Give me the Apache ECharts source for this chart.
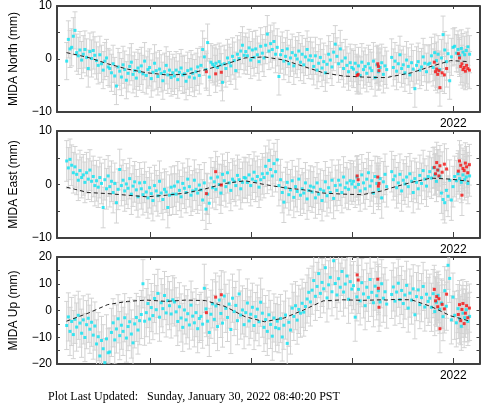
<!DOCTYPE html>
<html><head><meta charset="utf-8">
<script src="https://cdn.jsdelivr.net/npm/echarts@6/dist/echarts.min.js"></script>
<style>html,body{margin:0;padding:0;background:#fff}#c{width:481px;height:404px}</style>
</head><body><div id="c"></div>
<script>
// ---- data ----
const startYear = 2020.085;          // first daily-solution epoch (decimal year)
const stepDays = 3;                  // sampling of the plotted solutions
const xMin = 2020.037, xMax = 2022.130;
const xTickValues = [2020.5, 2021, 2021.5, 2022];
const xLabelValues = [2022];

const northVals = [-0.4,3.7,1.9,2.2,4.3,5.4,
 1.2,0.6,1.7,-0.2,0.9,1.8,0.3,-1.8,1.4,0.1,1.6,0.7,
 -0.3,-1.2,0.8,-0.9,-2.1,-0.4,0.2,-1.5,
 -1.8,-2.6,-0.9,-3.2,-5.1,-1.5,-2.3,-3.4,-1.1,-2.0,-4.0,-2.7,-1.4,-0.6,-2.9,-2.2,-3.6,-1.7,-2.4,
 -1.3,-2.8,-0.4,-3.1,-2.0,-1.6,-3.7,-2.5,-0.8,-2.2,-3.3,-1.9,-2.7,-4.1,-2.4,-1.2,-3.0,-2.1,-3.5,-2.6,
 -3.2,-2.1,-3.9,-2.5,-1.7,-3.0,-2.8,-4.2,-2.2,-3.4,-1.9,-2.7,-3.6,-2.4,-1.5,-3.1,
 -1.2,1.8,0.4,-2.0,3.1,-3.4,-0.6,-1.0,
 -1.4,-0.8,-1.6,-0.5,-1.1,-4.4,-0.9,-1.8,0.2,-0.7,-1.3,0.5,-0.3,-2.2,0.9,0.1,1.5,2.6,0.7,
 1.4,0.6,2.1,-0.2,1.7,0.3,1.9,0.8,-0.5,2.4,1.1,0.2,
 2.6,4.7,1.5,2.9,1.8,3.3,0.9,2.2,
 -3.3,0.8,1.6,-0.4,0.5,1.9,-0.9,0.2,1.2,-1.3,0.7,0.0,1.5,-0.6,0.9,-1.1,0.4,1.8,-0.2,0.6,
 -0.3,-1.4,0.6,-2.1,-0.8,0.3,-1.7,-0.5,-2.6,-1.0,0.9,-0.2,-1.5,1.3,2.8,0.5,-0.9,1.9,-0.4,-1.8,0.2,-1.2,-2.4,-0.7,-1.6,
 -1.9,-0.8,-2.6,-1.3,-3.1,-0.6,-2.0,-1.4,-2.7,-0.9,-1.7,-2.2,-0.4,-3.5,-1.1,-2.4,-1.6,-0.7,-2.9,-1.3,-2.0,
 null,null,
 0.3,-1.6,-0.4,-2.3,-0.9,0.8,-1.8,-1.1,-2.6,-0.2,-1.4,-3.0,-0.7,-1.9,-5.6,-1.2,-0.5,-2.1,-1.5,0.4,-0.8,-2.4,-1.0,
 -0.8,0.6,-1.6,1.2,-0.3,0.9,-2.0,0.2,4.6,1.7,-0.5,1.0,-4.1,0.4,2.2,
 2.4,1.1,1.8,0.6,2.0,1.3,0.8,1.6,2.3,0.9];

const eastVals = [4.4,3.1,4.7,3.6,2.2,3.3,
 1.9,0.8,2.6,1.3,1.8,0.4,2.2,1.0,2.7,0.6,1.5,-0.2,
 0.7,-0.5,1.3,0.2,-4.3,0.9,-0.8,1.6,
 -0.4,0.6,-1.5,0.2,-3.4,-0.9,2.8,-0.2,0.8,-1.2,0.1,-0.7,1.1,-1.8,-0.3,0.5,-1.0,-2.3,0.3,
 -0.8,-1.9,0.4,-1.4,-2.5,-0.6,-1.7,-3.0,-0.2,-1.2,-2.1,0.6,-1.6,-2.8,-0.9,-1.4,-4.3,-2.0,-0.5,-1.8,
 -0.3,-1.8,0.5,-1.1,-2.3,0.2,-0.7,-1.5,1.0,-0.4,-2.0,-1.2,0.8,-0.9,-1.6,-0.1,
 -1.0,-2.9,0.3,-4.6,-1.8,-3.5,1.2,-0.6,
 0.5,-0.9,1.4,0.0,-1.6,1.9,0.7,-0.4,2.2,0.3,-1.1,1.0,0.6,-0.2,1.7,0.9,-0.8,0.4,1.3,
 1.2,0.4,1.8,-0.2,1.0,2.3,0.6,1.5,-0.5,0.9,2.0,1.3,
 3.4,2.1,4.5,2.8,1.6,3.9,2.4,4.6,
 -0.2,0.9,-1.5,-3.3,-0.6,0.4,-1.9,-1.0,0.7,-2.4,-0.4,-1.3,1.0,-2.0,-0.8,-1.6,0.3,-2.7,-1.1,-0.3,
 -1.4,-0.5,-2.5,0.3,-1.8,-0.9,-3.0,-1.2,0.5,-2.1,-0.6,-1.5,0.8,-2.6,-0.2,-1.1,0.8,-0.1,-1.5,1.4,-0.6,0.3,-0.9,0.7,0.1,
 0.6,-0.5,1.4,0.0,-1.2,1.8,0.3,-0.8,1.0,2.2,-0.3,0.7,-1.6,1.5,0.2,-0.9,1.1,-2.5,0.5,1.9,-0.4,
 null,null,
 2.4,0.9,1.6,-0.6,0.3,1.9,-1.2,0.8,0.1,1.4,-0.4,2.0,0.6,-1.5,1.1,0.4,-0.8,1.7,0.2,2.6,1.0,-0.3,1.5,
 2.4,1.2,3.1,1.8,0.6,2.7,1.5,-1.6,-2.8,-3.4,-1.1,-2.2,0.8,-2.9,-0.4,
 1.5,0.7,2.0,1.1,0.4,1.8,0.9,1.4,0.2,1.6];

const upVals = [-5.6,-2.4,-7.8,-4.1,-9.0,-3.3,
 -6.2,-1.8,-4.7,-8.5,-3.5,-10.1,-5.3,-2.9,-7.0,-4.4,-9.2,-5.8,
 -12.5,-9.8,-17.0,-11.2,-14.3,-19.5,-10.6,-15.8,
 -15.5,-8.2,-4.6,-11.0,-6.9,-3.1,-9.4,-5.5,-7.8,-2.7,-10.3,-6.0,-4.2,-8.8,-12.1,-5.0,-2.6,-7.3,-3.8,
 -1.5,10.0,-4.0,-0.8,2.6,-3.2,1.1,-1.9,4.5,0.3,6.4,-2.5,2.9,0.7,5.6,-0.9,3.7,1.8,-1.3,4.0,
 3.2,-0.5,-4.1,1.4,-2.8,-6.3,0.2,-3.5,-1.2,-5.4,2.0,-2.1,-4.6,-0.8,-6.8,-3.0,
 -2.2,-5.1,8.3,0.6,-4.0,-8.2,-1.4,2.5,
 -3.3,1.7,-6.0,3.9,-1.1,-4.7,5.4,0.8,-2.6,2.4,-7.1,4.6,-0.4,1.9,-3.8,6.2,-1.7,0.2,-5.3,
 -0.8,2.8,-3.9,-1.4,1.2,-5.6,-2.3,0.5,-4.2,3.1,-1.0,-6.3,
 -3.4,-7.8,-1.6,-5.2,-9.6,-2.8,-6.4,-4.0,
 -6.8,-3.0,-9.9,-5.5,-1.7,-12.3,-4.4,-7.3,0.9,-2.2,1.8,-3.6,0.4,-1.0,2.7,-0.6,1.5,4.3,6.8,3.2,
 7.6,11.2,5.3,9.0,13.8,6.4,10.5,8.1,16.0,4.7,9.6,12.4,7.0,18.6,10.1,5.8,11.9,8.7,14.6,6.9,9.9,12.9,4.2,10.8,8.0,
 9.3,-2.5,5.1,7.9,3.6,10.4,6.2,1.8,8.7,4.9,11.6,6.8,2.9,9.1,5.5,7.4,3.2,10.0,4.6,7.0,2.4,
 null,null,
 6.0,8.8,3.5,6.9,10.2,4.1,7.5,2.6,5.8,9.4,0.9,6.5,3.9,8.1,-1.6,5.2,7.7,2.2,4.8,9.0,1.3,6.1,3.4,
 4.6,1.2,6.3,-0.4,3.1,5.7,0.5,2.8,-2.3,7.4,1.6,16.9,12.0,-3.5,5.0,
 -1.8,-4.6,0.7,-3.2,-5.9,-1.0,-2.7,0.3,-4.1,-2.2];

const redDates = [2020.777,2020.823,2020.851,2021.524,2021.529,2021.626,2021.629,2021.632,
 2021.906,2021.912,2021.918,2021.923,2021.929,2021.934,2021.945,2021.956,2021.967,
 2022.025,2022.031,2022.037,2022.043,2022.048,2022.054,2022.060,2022.066,2022.072,2022.080];
const redNorth = [-2.4,-2.8,-2.5,-3.1,-2.9,-0.9,-1.4,-2.2,-0.6,-2.4,-1.9,-2.9,-2.2,-5.4,-2.6,-3.0,-1.8,
 1.0,0.2,-1.4,-0.9,-2.0,-1.6,-2.3,-1.2,-1.8,-2.1];
const redEast = [-1.7,2.4,-0.1,1.6,0.9,1.4,-0.3,0.2,3.2,2.0,4.1,2.7,1.6,3.5,2.3,3.8,2.9,
 2.5,4.4,3.6,-2.0,3.0,2.6,4.0,3.3,2.2,3.7];
const redUp = [-0.8,5.0,5.9,13.3,11.4,11.7,8.3,1.2,7.9,3.6,5.2,1.4,4.4,-6.8,2.3,0.6,6.1,
 -1.5,2.2,-3.8,0.4,2.6,-4.9,-1.0,1.8,-2.7,0.9];

const modelDates = [2020.084,2020.191,2020.288,2020.385,2020.482,2020.579,2020.676,2020.773,2020.870,2020.968,
 2021.065,2021.162,2021.259,2021.356,2021.453,2021.550,2021.647,2021.671,2021.696,2021.793,2021.890,2021.987,2022.079];
const modelNorth = [1.2,0.3,-0.9,-1.9,-2.6,-3.0,-2.9,-2.0,-1.0,0.2,0.4,-0.2,-1.4,-2.6,-3.2,-3.4,-3.5,-3.5,-3.3,-2.6,-1.4,-0.3,-0.5];
const modelEast = [-0.5,-1.5,-1.7,-2.0,-2.3,-2.0,-1.6,-0.8,0.2,0.7,0.0,-0.6,-1.0,-1.6,-1.8,-1.9,-1.2,-0.9,-0.6,0.4,1.2,1.0,0.6];
const modelUp = [-4.0,-1.0,2.2,3.4,3.9,3.4,3.9,3.7,1.5,-2.3,-4.2,-2.8,0.2,3.6,4.0,3.8,4.0,3.9,4.1,4.0,1.5,-2.0,-3.9];

const sigmaNorth = 3.5, sigmaEast = 3.8, sigmaUp = 9.0;
const yRanges = [[-10,10],[-10,10],[-20,20]];
const yNames = ['MIDA North (mm)','MIDA East (mm)','MIDA Up (mm)'];
const footer = 'Plot Last Updated:   Sunday, January 30, 2022 08:40:20 PST';

// ---- build ----
const panelVals = [northVals, eastVals, upVals];
const panelRed = [redNorth, redEast, redUp];
const panelModel = [modelNorth, modelEast, modelUp];
const panelSigma = [sigmaNorth, sigmaEast, sigmaUp];
const gridTops = [5, 131, 257];
const H = 107;
const AX = '#404040';
const CYAN = '#0ae4f2', RED = '#f50f0f', BAR = '#d3d3d3';
const fmt = v => String(v).replace('-', '\u2212');

const grids = [], xAxes = [], yAxes = [], series = [];
function barSeries(data, xi, yi) {
  return {
    type: 'custom', xAxisIndex: xi, yAxisIndex: yi, data, clip: true, silent: true, z: 1,
    encode: {x: 0, y: 1},
    renderItem(params, api) {
      const x = api.value(0), y = api.value(1), s = api.value(2);
      const a = api.coord([x, y - s]), b = api.coord([x, y + s]);
      const w = 2.5, st = {stroke: BAR, lineWidth: 1};
      return {type: 'group', children: [
        {type: 'line', shape: {x1: a[0], y1: a[1], x2: b[0], y2: b[1]}, style: st},
        {type: 'line', shape: {x1: a[0]-w, y1: a[1], x2: a[0]+w, y2: a[1]}, style: st},
        {type: 'line', shape: {x1: b[0]-w, y1: b[1], x2: b[0]+w, y2: b[1]}, style: st}
      ]};
    }
  };
}
for (let k = 0; k < 3; k++) {
  grids.push({left: 48, right: 1.5, top: gridTops[k], height: H});
  const xb = xAxes.length;
  xAxes.push({type: 'value', gridIndex: k, position: 'bottom', min: xMin, max: xMax,
    axisLine: {show: true, onZero: false, lineStyle: {color: AX, width: 2}},
    axisTick: {show: true, inside: true, length: 6, lineStyle: {color: AX}, customValues: xTickValues},
    axisLabel: {show: true, margin: 6, color: '#000', fontFamily: 'Liberation Sans', fontSize: 12,
      customValues: xLabelValues, formatter: v => String(Math.round(v))},
    splitLine: {show: false}});
  xAxes.push({type: 'value', gridIndex: k, position: 'top', min: xMin, max: xMax,
    axisLine: {show: true, onZero: false, lineStyle: {color: AX, width: 2}},
    axisTick: {show: true, inside: true, length: 3, lineStyle: {color: AX}, customValues: xTickValues},
    axisLabel: {show: false}, splitLine: {show: false}});
  const yl = yAxes.length;
  const [lo, hi] = yRanges[k];
  yAxes.push({type: 'value', gridIndex: k, position: 'left', min: lo, max: hi, interval: 5,
    name: yNames[k], nameLocation: 'middle', nameGap: 37,
    nameTextStyle: {color: '#000', fontFamily: 'Liberation Sans', fontSize: 12},
    axisLine: {show: true, onZero: false, lineStyle: {color: AX, width: 2}},
    axisTick: {show: true, inside: true, length: 3, lineStyle: {color: AX}},
    axisLabel: {show: true, margin: 5, color: '#000', fontFamily: 'Liberation Sans', fontSize: 12,
      formatter: v => (v % 10 === 0 ? fmt(v) : '')},
    splitLine: {show: false}});
  yAxes.push({type: 'value', gridIndex: k, position: 'right', min: lo, max: hi, interval: 5,
    axisLine: {show: true, onZero: false, lineStyle: {color: AX, width: 2}},
    axisTick: {show: true, inside: true, length: 3, lineStyle: {color: AX}},
    axisLabel: {show: false}, splitLine: {show: false}});

  const vals = panelVals[k], sig = panelSigma[k];
  const pts = [], bars = [];
  vals.forEach((v, i) => {
    if (v === null) return;
    const t = startYear + i * stepDays / 365.25;
    pts.push([t, v]);
    bars.push([t, v, sig]);
  });
  const reds = redDates.map((t, i) => [t, panelRed[k][i]]);
  const redBars = redDates.map((t, i) => [t, panelRed[k][i], sig]);
  series.push(barSeries(bars, xb, yl));
  series.push(barSeries(redBars, xb, yl));
  series.push({type: 'scatter', xAxisIndex: xb, yAxisIndex: yl, data: pts, symbol: 'rect',
    symbolSize: 3, itemStyle: {color: CYAN}, silent: true, z: 2, animation: false});
  series.push({type: 'line', xAxisIndex: xb, yAxisIndex: yl,
    data: modelDates.map((t, i) => [t, panelModel[k][i]]), showSymbol: false, symbol: 'none',
    lineStyle: {color: '#222', width: 1, type: [4, 3]}, silent: true, z: 3, animation: false});
  series.push({type: 'scatter', xAxisIndex: xb, yAxisIndex: yl, data: reds, symbol: 'rect',
    symbolSize: 3, itemStyle: {color: RED}, silent: true, z: 4, animation: false});
}

const chart = echarts.init(document.getElementById('c'), null, {renderer: 'canvas'});
chart.setOption({
  animation: false,
  backgroundColor: '#fff',
  grid: grids, xAxis: xAxes, yAxis: yAxes, series,
  graphic: [{type: 'text', left: 48, top: 391,
    style: {text: footer, fill: '#000', font: '12px "Liberation Serif"'}}]
});
</script></body></html>
